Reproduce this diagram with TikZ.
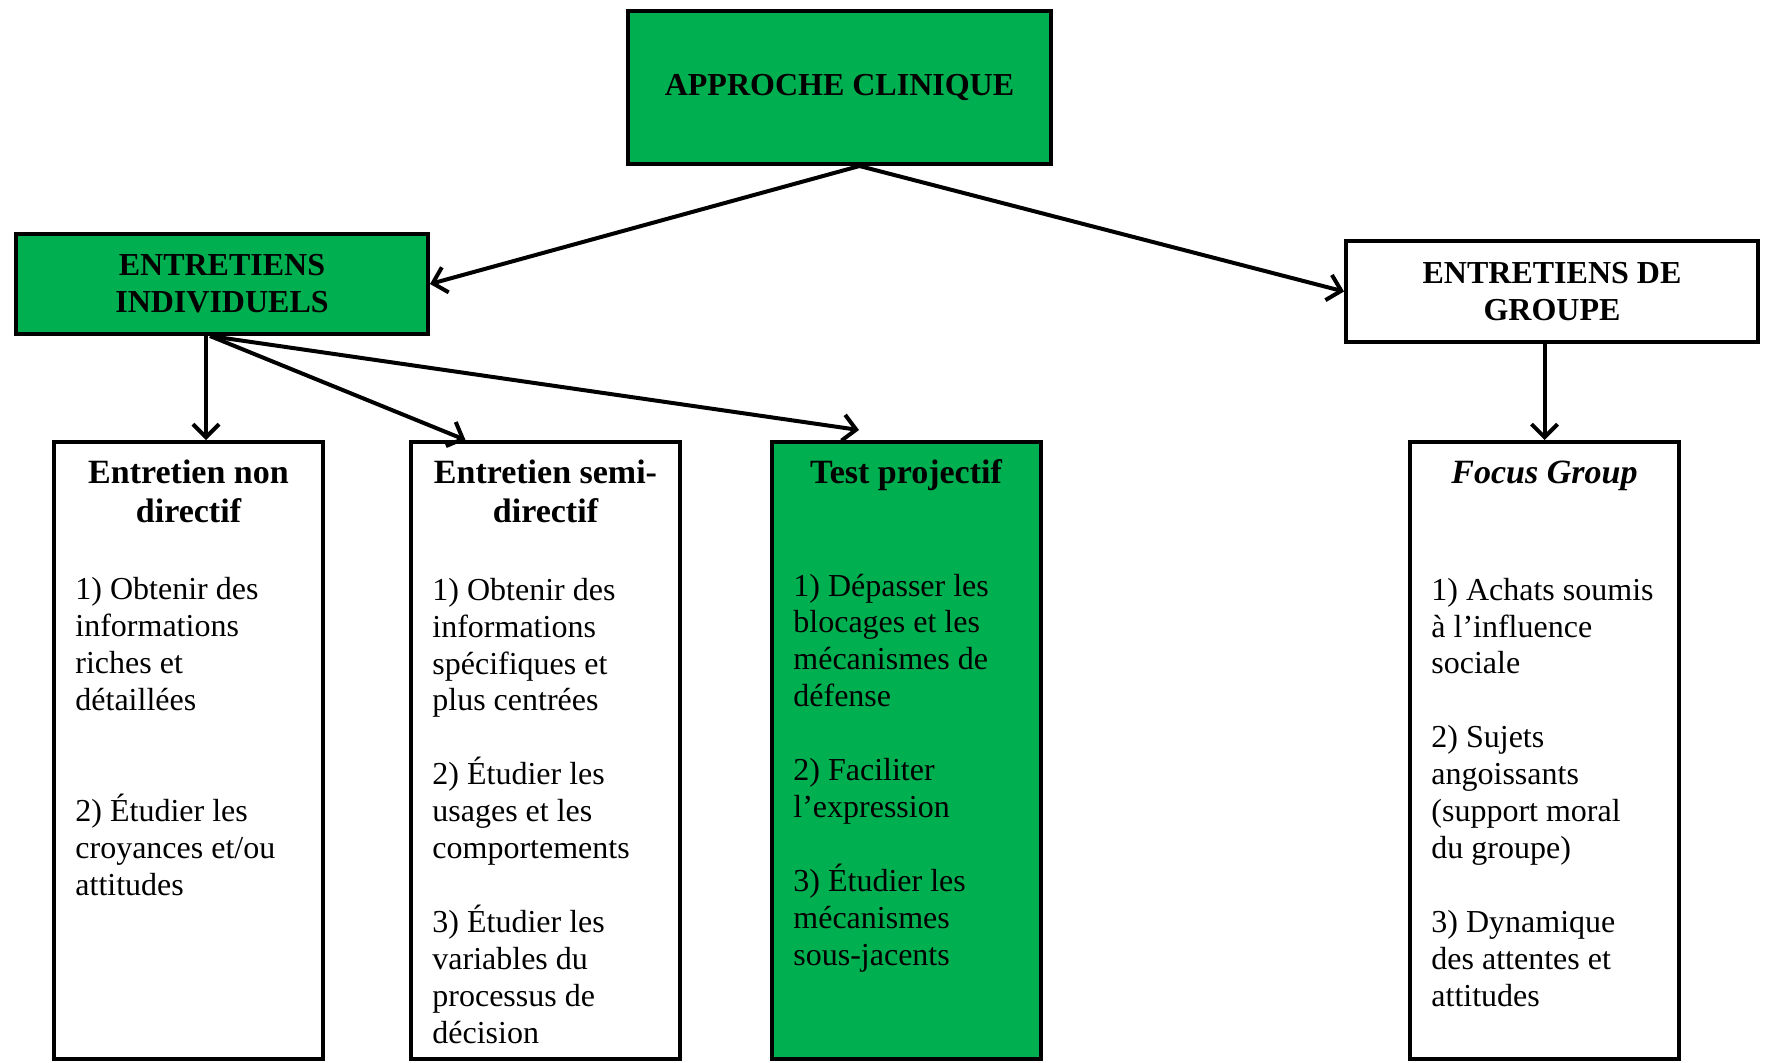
\documentclass[tikz,border=0pt]{standalone}
\usepackage{fontspec}
\setmainfont{Liberation Serif}
\usetikzlibrary{arrows.meta}
\definecolor{vert}{RGB}{0,176,80}
\tikzset{node distance=2cm, auto,
  boite/.style={draw, line width=2pt, inner sep=0pt, align=center,
    font=\fontsize{16}{18.5}\selectfont\bfseries},
  colonne/.style={draw, line width=2pt, inner sep=0pt,
    minimum width=134.5pt, minimum height=308.5pt},
  titre/.style={align=center, anchor=base, font=\fontsize{17}{19.5}\selectfont\bfseries},
  texte/.style={align=left, anchor=base west, inner sep=0pt, font=\fontsize{16}{18.45}\selectfont},
  fleche/.style={->, line width=2pt, >={Straight Barb[length=6.5pt,width=13pt]}}
}
\begin{document}
\begin{tikzpicture}[x=0.5pt,y=-0.5pt]
\useasboundingbox (0,0) rectangle (1768,1062);
% haut
\node (ac) [boite, fill=vert, minimum width=211.5pt, minimum height=76.5pt] at (839.5,87.5) {APPROCHE CLINIQUE};
\node (ei) [boite, fill=vert, minimum width=206pt, minimum height=50pt] at (222,284) {ENTRETIENS\\INDIVIDUELS};
\node (eg) [boite, fill=white, minimum width=206pt, minimum height=50.5pt] at (1552,291.5) {ENTRETIENS DE\\GROUPE};
% colonnes (ancre base = derniere ligne)
\node (nd) [colonne, fill=white] at (188.5,750.5) {};
\node (sd) [colonne, fill=white] at (545.5,750.5) {};
\node (tp) [colonne, fill=vert] at (906,750.5) {};
\node (fg) [colonne, fill=white] at (1544.5,750.5) {};
\node (ndt) [titre] at (188.5,522.5) {Entretien non\\directif};
\node (sdt) [titre] at (545.5,522.5) {Entretien semi-\\directif};
\node (tpt) [titre] at (906,483.5) {Test projectif};
\node (fgt) [titre] at (1544.5,483.5) {\itshape Focus Group};
\node (ndx) [texte] at (75,895) {1) Obtenir des\\informations\\riches et\\détaillées\\[36.9pt]2) Étudier les\\croyances et/ou\\attitudes};
\node (sdx) [texte] at (432,1043) {1) Obtenir des\\informations\\spécifiques et\\plus centrées\\[18.45pt]2) Étudier les\\usages et les\\comportements\\[18.45pt]3) Étudier les\\variables du\\processus de\\décision};
\node (tpx) [texte] at (793,965) {1) Dépasser les\\blocages et les\\mécanismes de\\défense\\[18.45pt]2) Faciliter\\l’expression\\[18.45pt]3) Étudier les\\mécanismes\\sous-jacents};
\node (fgx) [texte] at (1431,1006) {1) Achats soumis\\à l’influence\\sociale\\[18.45pt]2) Sujets\\angoissants\\(support moral\\du groupe)\\[18.45pt]3) Dynamique\\des attentes et\\attitudes};
% fleches
\draw[fleche] ([xshift=10pt]ac.south) -- (ei.east);
\draw[fleche] ([xshift=10pt]ac.south) -- (eg.west);
\draw[fleche] ([xshift=-8pt]ei.south) -- ([xshift=8.75pt]nd.north);
\draw[fleche] ([xshift=-6pt]ei.south) -- ([xshift=-40pt]sd.north);
\draw[fleche] ([xshift=-6pt]ei.south) -- ([xshift=-23.5pt,yshift=5pt]tp.north);
\draw[fleche] (eg.south -| fg.north) -- (fg.north);
\end{tikzpicture}
\end{document}
